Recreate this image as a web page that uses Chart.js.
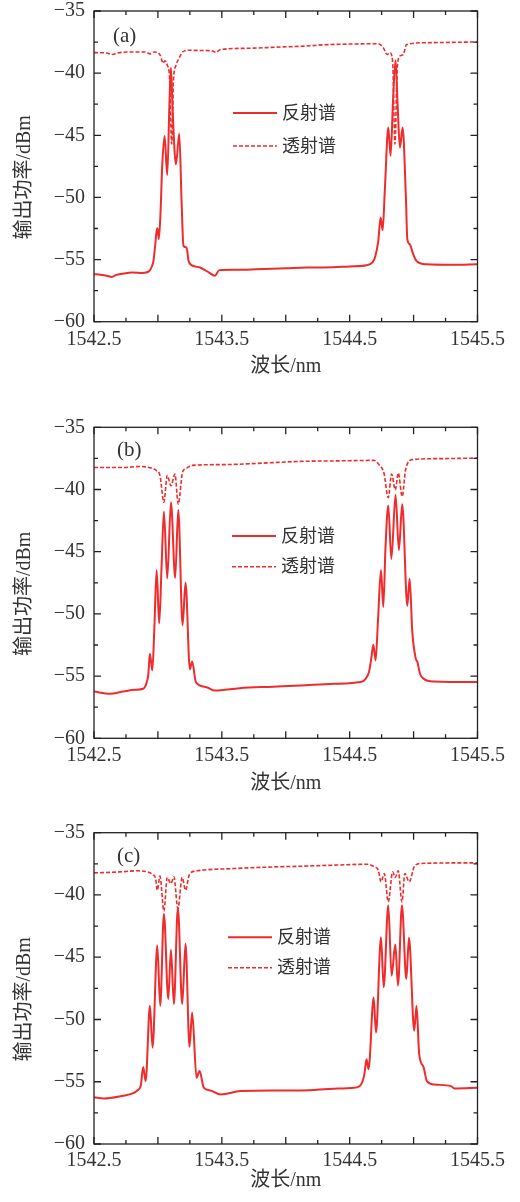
<!DOCTYPE html>
<html>
<head>
<meta charset="utf-8">
<script src="https://cdn.jsdelivr.net/npm/chart.js@4.4.1/dist/chart.umd.min.js"></script>
<style>
  body { margin: 0; background: #fff; }
  canvas { position: absolute; left: 0; }
</style>
</head>
<body>
<canvas id="panelA" width="520" height="415" style="top:-10px"></canvas>
<canvas id="panelB" width="520" height="405" style="top:405px"></canvas>
<canvas id="panelC" width="520" height="392" style="top:810px"></canvas>
<script>
const X_MIN = 1542.5, X_MAX = 1545.5;
const Y_MIN = -60, Y_MAX = -35;
const SERIES_LABELS = ['反射谱', '透射谱'];
const X_TITLE = '波长/nm';
const Y_TITLE = '输出功率/dBm';

// [wavelength nm, power dBm]
const reflA = [
  [1542.50,-56.18],[1542.55,-56.22],[1542.60,-56.30],[1542.64,-56.40],[1542.67,-56.25],[1542.72,-56.15],
  [1542.80,-56.05],[1542.88,-56.08],[1542.93,-55.95],[1542.955,-55.5],[1542.965,-55.11],[1542.977,-54.03],
  [1542.99,-52.69],[1542.997,-52.48],[1543.007,-53.36],[1543.02,-51.35],[1543.033,-47.6],[1543.052,-45.05],
  [1543.073,-48.19],[1543.09,-42.5],[1543.102,-39.56],[1543.115,-43.0],[1543.141,-47.33],[1543.167,-44.87],
  [1543.185,-50.28],[1543.2,-53.9],[1543.224,-54.03],[1543.24,-55.11],[1543.276,-55.51],[1543.33,-55.64],
  [1543.40,-56.05],[1543.445,-56.31],[1543.48,-55.85],[1543.6,-55.82],[1543.77,-55.78],[1544.0,-55.7],
  [1544.16,-55.64],[1544.37,-55.62],[1544.5,-55.55],[1544.633,-55.46],[1544.68,-55.2],[1544.698,-54.84],
  [1544.724,-53.5],[1544.742,-51.62],[1544.758,-52.64],[1544.776,-49.21],[1544.802,-44.38],[1544.820,-46.66],
  [1544.84,-42.0],[1544.859,-38.97],[1544.875,-42.5],[1544.893,-45.99],[1544.914,-44.38],[1544.940,-50.01],
  [1544.951,-53.36],[1544.97,-53.77],[1544.997,-54.57],[1545.023,-55.11],[1545.1,-55.38],[1545.3,-55.42],
  [1545.5,-55.38]
];
const transA = [
  [1542.5,-38.35],[1542.6,-38.38],[1542.64,-38.5],[1542.7,-38.35],[1542.8,-38.3],[1542.9,-38.3],
  [1542.94,-38.45],[1542.97,-38.3],[1543.0,-38.35],[1543.02,-38.6],[1543.04,-39.2],[1543.055,-39.0],
  [1543.075,-39.4],[1543.09,-40.2],[1543.108,-45.7],[1543.122,-40.5],[1543.14,-39.4],[1543.16,-38.9],
  [1543.2,-38.25],[1543.24,-38.16],[1543.35,-38.18],[1543.42,-38.2],[1543.455,-38.32],[1543.49,-38.1],
  [1543.7,-38.0],[1543.95,-37.9],[1544.16,-37.82],[1544.3,-37.72],[1544.5,-37.66],[1544.724,-37.63],
  [1544.763,-37.95],[1544.794,-38.5],[1544.815,-38.35],[1544.836,-39.05],[1544.854,-45.7],[1544.872,-39.6],
  [1544.893,-38.62],[1544.919,-38.5],[1544.945,-37.7],[1545.1,-37.55],[1545.5,-37.49]
];
const reflB = [
  [1542.5,-56.24],[1542.625,-56.42],[1542.729,-56.24],[1542.82,-56.1],[1542.885,-56.02],[1542.906,-55.7],
  [1542.924,-54.95],[1542.9375,-53.2],[1542.956,-54.54],[1542.971,-51.45],[1542.99,-46.48],[1543.01,-50.78],
  [1543.029,-46.08],[1543.047,-41.77],[1543.073,-47.15],[1543.102,-41.02],[1543.135,-47.1],[1543.159,-41.64],
  [1543.193,-50.91],[1543.216,-47.47],[1543.25,-54.46],[1543.268,-53.82],[1543.297,-55.48],[1543.38,-55.89],
  [1543.445,-56.16],[1543.64,-55.97],[1543.9,-55.85],[1544.117,-55.75],[1544.378,-55.62],[1544.586,-55.48],
  [1544.625,-55.22],[1544.651,-54.68],[1544.669,-53.6],[1544.685,-52.47],[1544.703,-53.74],[1544.721,-50.65],
  [1544.745,-46.48],[1544.763,-49.44],[1544.78,-44.73],[1544.802,-41.29],[1544.826,-45.59],[1544.859,-40.43],
  [1544.885,-44.87],[1544.911,-41.18],[1544.951,-49.35],[1544.969,-47.15],[1544.99,-51.45],[1545.016,-53.55],
  [1545.03,-53.87],[1545.05,-54.81],[1545.08,-55.22],[1545.159,-55.43],[1545.5,-55.48]
];
const transB = [
  [1542.5,-38.23],[1542.729,-38.23],[1542.86,-38.15],[1542.95,-38.28],[1542.99,-38.49],[1543.016,-38.87],
  [1543.047,-41.02],[1543.073,-38.87],[1543.102,-39.7],[1543.133,-38.76],[1543.159,-41.18],[1543.193,-38.6],
  [1543.225,-38.28],[1543.263,-38.06],[1543.51,-38.0],[1543.82,-37.88],[1544.117,-37.74],[1544.4,-37.7],
  [1544.69,-37.66],[1544.729,-38.0],[1544.768,-38.68],[1544.802,-40.65],[1544.828,-38.76],[1544.857,-40.03],
  [1544.88,-38.68],[1544.911,-40.56],[1544.9375,-38.41],[1544.99,-37.6],[1545.2,-37.52],[1545.5,-37.47]
];
const reflC = [
  [1542.5,-56.24],[1542.578,-56.34],[1542.708,-56.16],[1542.8125,-55.89],[1542.839,-55.7],[1542.865,-55.35],
  [1542.885,-53.82],[1542.904,-54.95],[1542.9375,-48.9],[1542.958,-52.26],[1542.995,-44.06],[1543.018,-48.9],
  [1543.047,-41.5],[1543.081,-48.36],[1543.102,-44.41],[1543.125,-48.76],[1543.156,-41.02],[1543.19,-48.76],
  [1543.216,-43.92],[1543.247,-52.2],[1543.268,-49.44],[1543.302,-54.68],[1543.326,-54.14],[1543.359,-55.48],
  [1543.411,-55.7],[1543.49,-56.02],[1543.646,-55.75],[1543.9,-55.7],[1544.12,-55.7],[1544.38,-55.56],
  [1544.536,-55.48],[1544.589,-55.22],[1544.615,-54.41],[1544.632,-53.2],[1544.648,-54.0],[1544.6875,-48.23],
  [1544.706,-51.05],[1544.745,-43.39],[1544.766,-47.42],[1544.802,-40.83],[1544.828,-46.48],[1544.857,-43.98],
  [1544.878,-47.28],[1544.909,-40.83],[1544.943,-46.75],[1544.964,-43.44],[1545.005,-50.91],[1545.023,-48.9],
  [1545.044,-52.8],[1545.078,-53.82],[1545.104,-54.95],[1545.161,-55.22],[1545.292,-55.35],[1545.32,-55.54],
  [1545.5,-55.48]
];
const transC = [
  [1542.5,-38.23],[1542.7,-38.15],[1542.839,-38.06],[1542.917,-38.15],[1542.956,-38.33],[1542.982,-38.68],
  [1542.995,-39.62],[1543.016,-38.49],[1543.047,-41.29],[1543.073,-38.6],[1543.102,-39.09],[1543.125,-38.55],
  [1543.156,-41.1],[1543.19,-38.6],[1543.216,-39.62],[1543.247,-38.33],[1543.307,-38.06],[1543.594,-37.88],
  [1543.9,-37.75],[1544.12,-37.69],[1544.4,-37.6],[1544.64,-37.53],[1544.693,-37.74],[1544.724,-38.01],
  [1544.745,-38.95],[1544.771,-38.28],[1544.802,-40.56],[1544.836,-38.15],[1544.857,-38.6],[1544.88,-38.06],
  [1544.909,-40.56],[1544.932,-38.28],[1544.966,-38.95],[1545.005,-37.74],[1545.057,-37.47],[1545.5,-37.42]
];

const RED = '#ef2b2b';
const INK = '#333';
const AXIS = '#222';
const FONT = '"Liberation Serif", "Noto Sans CJK SC", serif';

const isMult = (v, step) => Math.abs(v / step - Math.round(v / step)) < 1e-6;

// frame with inward ticks on all four sides, panel letter, legend and y title
const framePlugin = {
  id: 'frame',
  afterDraw(chart, args, opts) {
    const { ctx, chartArea: a, scales: { x, y } } = chart;
    ctx.save();
    ctx.strokeStyle = AXIS;
    ctx.lineWidth = 1.3;
    ctx.strokeRect(a.left, a.top, a.width, a.height);
    ctx.beginPath();
    x.ticks.forEach(t => {
      const px = x.getPixelForValue(t.value);
      const len = isMult(t.value - X_MIN, 0.5) ? 7 : 4;
      ctx.moveTo(px, a.bottom); ctx.lineTo(px, a.bottom - len);
      ctx.moveTo(px, a.top); ctx.lineTo(px, a.top + len);
    });
    y.ticks.forEach(t => {
      const py = y.getPixelForValue(t.value);
      const len = isMult(t.value, 5) ? 7 : 4;
      ctx.moveTo(a.left, py); ctx.lineTo(a.left + len, py);
      ctx.moveTo(a.right, py); ctx.lineTo(a.right - len, py);
    });
    ctx.stroke();

    ctx.fillStyle = INK;
    ctx.textBaseline = 'middle';
    ctx.font = '21px ' + FONT;
    ctx.fillText(opts.letter, opts.letterX, a.top + opts.letterY);

    ctx.font = '18px ' + FONT;
    chart.data.datasets.forEach((ds, i) => {
      const ly = a.top + opts.legendY[i];
      ctx.strokeStyle = ds.borderColor;
      ctx.lineWidth = ds.borderWidth;
      ctx.setLineDash(ds.borderDash || []);
      ctx.beginPath();
      ctx.moveTo(opts.legendX, ly);
      ctx.lineTo(opts.legendX + 44, ly);
      ctx.stroke();
      ctx.fillText(ds.label, opts.legendX + 49, ly + 1);
    });
    ctx.setLineDash([]);

    ctx.font = '20px ' + FONT;
    ctx.textAlign = 'center';
    ctx.translate(25, (a.top + a.bottom) / 2 + 11);
    ctx.rotate(-Math.PI / 2);
    ctx.fillText(Y_TITLE, 0, 0);
    ctx.restore();
  }
};

function makePanel(id, refl, trans, p) {
  return new Chart(document.getElementById(id), {
    type: 'line',
    data: {
      datasets: [
        { label: SERIES_LABELS[0], data: refl, borderColor: RED, borderWidth: 2,
          pointRadius: 0, cubicInterpolationMode: 'monotone' },
        { label: SERIES_LABELS[1], data: trans, borderColor: RED, borderWidth: 1.6, borderDash: [4, 2],
          pointRadius: 0, cubicInterpolationMode: 'monotone' }
      ]
    },
    options: {
      responsive: false,
      animation: false,
      layout: { padding: { top: p.padTop, right: 42.5, bottom: p.padBottom, left: 0 } },
      plugins: {
        legend: { display: false },
        tooltip: { enabled: false },
        frame: p.frame
      },
      scales: {
        x: {
          type: 'linear', min: X_MIN, max: X_MAX,
          grid: { display: false, drawTicks: false },
          border: { display: false },
          ticks: {
            stepSize: 0.25, autoSkip: false, maxRotation: 0, padding: p.tickPad, color: INK,
            font: { family: FONT, size: 20 },
            callback: v => isMult(v - X_MIN, 1) ? v.toFixed(1) : ''
          },
          title: { display: true, text: X_TITLE, color: INK, font: { family: FONT, size: 20 },
                   padding: { top: 0, bottom: p.titlePad } },
          afterFit: s => { s.height = 58; }
        },
        y: {
          min: Y_MIN, max: Y_MAX,
          grid: { display: false, drawTicks: false },
          border: { display: false },
          ticks: {
            stepSize: 2.5, autoSkip: false, padding: 9, color: INK,
            font: { family: FONT, size: 20 },
            callback: v => isMult(v, 5) ? '\u2212' + Math.abs(v) : ''
          },
          afterFit: s => { s.width = 94; }
        }
      }
    },
    plugins: [framePlugin]
  });
}

makePanel('panelA', reflA, transA, {
  padTop: 20, padBottom: 25.3, tickPad: 6, titlePad: 1,
  frame: { letter: '(a)', letterX: 113, letterY: 25, legendX: 233, legendY: [102, 135] }
});
makePanel('panelB', reflB, transB, {
  padTop: 22.3, padBottom: 13.7, tickPad: 5, titlePad: 1,
  frame: { letter: '(b)', letterX: 117, letterY: 22.7, legendX: 232, legendY: [108.7, 139.4] }
});
makePanel('panelC', reflC, transC, {
  padTop: 22.7, padBottom: 0, tickPad: 5, titlePad: 9,
  frame: { letter: '(c)', letterX: 117, letterY: 23.8, legendX: 228, legendY: [104.6, 135] }
});
</script>
</body>
</html>
